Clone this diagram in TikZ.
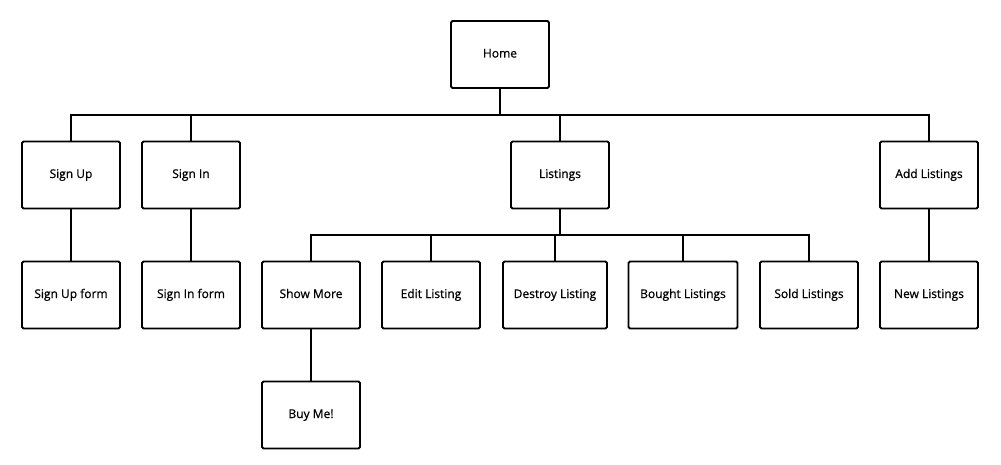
\documentclass[tikz,border=0pt]{standalone}
\usepackage{fontspec}
\newfontfamily\pagefont{Open Sans}[FakeBold=0.8]
\usetikzlibrary{calc}

\tikzset{
    page/.style={draw, line width=1.8pt, rounded corners=1.5pt, minimum width=98pt, minimum height=67pt, inner sep=2pt, text height=9pt, text depth=3pt, font=\fontsize{12}{14}\pagefont},
    link/.style={line width=1.8pt}
}

\begin{document}
\begin{tikzpicture}[x=1pt, y=-1pt]

    \useasboundingbox (0,0) rectangle (1001,465);

    \node[page] (home) at (500,54.5) {Home};

    \node[page] (signup) at (71,175) {Sign Up};
    \node[page] (signin) at (191,175) {Sign In};
    \node[page] (listings) at (560,175) {Listings};
    \node[page] (addlistings) at (929,175) {Add Listings};

    \node[page] (signupform) at (71,295) {Sign Up form};
    \node[page] (signinform) at (191,295) {Sign In form};
    \node[page] (showmore) at (311,295) {Show More};
    \node[page] (editlisting) at (431,295) {Edit Listing};
    \node[page, minimum width=104pt] (destroylisting) at (555,295) {Destroy Listing};
    \node[page, minimum width=109pt] (boughtlistings) at (683,295) {Bought Listings};
    \node[page] (soldlistings) at (809,295) {Sold Listings};
    \node[page] (newlistings) at (929,295) {New Listings};

    \node[page] (buyme) at (311,415) {Buy Me!};

    % first level
    \coordinate (bustop) at (500,115);
    \draw[link] (home.south) -- (bustop);
    \draw[link] (signup.north) |- (bustop);
    \draw[link] (signin.north) |- (bustop);
    \draw[link] (listings.north) |- (bustop);
    \draw[link] (addlistings.north) |- (bustop);

    % listings
    \coordinate (buslist) at (560,235);
    \draw[link] (listings.south) -- (buslist);
    \foreach \p in {showmore, editlisting, destroylisting, boughtlistings, soldlistings}
        \draw[link] (\p.north) |- (buslist);

    \draw[link] (signup.south) -- (signupform.north);
    \draw[link] (signin.south) -- (signinform.north);
    \draw[link] (addlistings.south) -- (newlistings.north);
    \draw[link] (showmore.south) -- (buyme.north);

\end{tikzpicture}
\end{document}
